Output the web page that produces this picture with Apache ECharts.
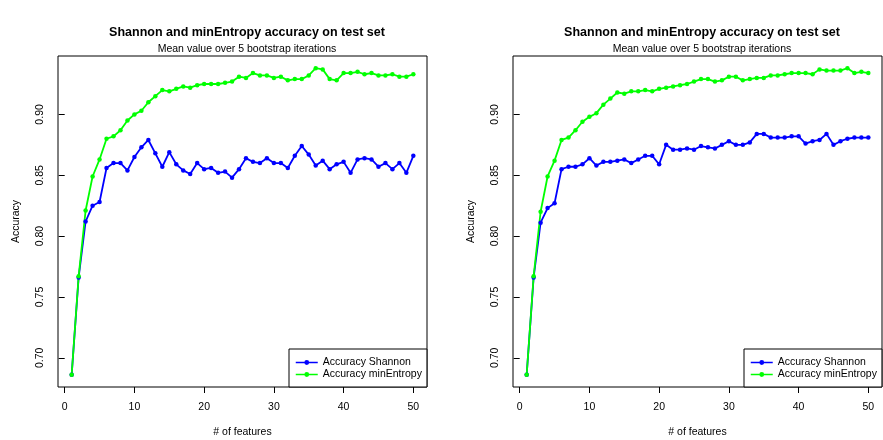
<!DOCTYPE html>
<html>
<head>
<meta charset="utf-8">
<title>Shannon and minEntropy accuracy</title>
<script src="https://cdn.jsdelivr.net/npm/echarts@6/dist/echarts.min.js"></script>
<style>
  html, body { margin: 0; padding: 0; background: #fff; }
  #main { width: 883px; height: 440px; }
</style>
</head>
<body>
<div id="main"></div>
<script>
// number of features (x axis)
var features = [];
for (var i = 1; i <= 50; i++) features.push(i);

var xTicks = [0, 10, 20, 30, 40, 50];
var yTicks = [0.70, 0.75, 0.80, 0.85, 0.90];

// left panel
var leftShannon = [
  0.686, 0.766, 0.812, 0.825, 0.828, 0.856, 0.860, 0.860, 0.854, 0.865,
  0.873, 0.879, 0.868, 0.857, 0.869, 0.859, 0.854, 0.851, 0.860, 0.855,
  0.856, 0.852, 0.853, 0.848, 0.855, 0.864, 0.861, 0.860, 0.864, 0.860,
  0.860, 0.856, 0.866, 0.874, 0.867, 0.858, 0.862, 0.855, 0.859, 0.861,
  0.852, 0.863, 0.864, 0.863, 0.857, 0.860, 0.855, 0.860, 0.852, 0.866
];
var leftMinEntropy = [
  0.686, 0.767, 0.821, 0.849, 0.863, 0.880, 0.882, 0.887, 0.895, 0.900,
  0.903, 0.910, 0.915, 0.920, 0.919, 0.921, 0.923, 0.922, 0.924, 0.925,
  0.925, 0.925, 0.926, 0.927, 0.931, 0.930, 0.934, 0.932, 0.932, 0.930,
  0.931, 0.928, 0.929, 0.929, 0.932, 0.938, 0.937, 0.929, 0.928, 0.934,
  0.934, 0.935, 0.933, 0.934, 0.932, 0.932, 0.933, 0.931, 0.931, 0.933
];

// right panel
var rightShannon = [
  0.686, 0.766, 0.811, 0.823, 0.827, 0.855, 0.857, 0.857, 0.859, 0.864,
  0.858, 0.861, 0.861, 0.862, 0.863, 0.860, 0.863, 0.866, 0.866, 0.859,
  0.875, 0.871, 0.871, 0.872, 0.871, 0.874, 0.873, 0.872, 0.875, 0.878,
  0.875, 0.875, 0.877, 0.884, 0.884, 0.881, 0.881, 0.881, 0.882, 0.882,
  0.876, 0.878, 0.879, 0.884, 0.875, 0.878, 0.880, 0.881, 0.881, 0.881
];
var rightMinEntropy = [
  0.686, 0.767, 0.820, 0.849, 0.862, 0.879, 0.881, 0.887, 0.894, 0.898,
  0.901, 0.908, 0.913, 0.918, 0.917, 0.919, 0.919, 0.920, 0.919, 0.921,
  0.922, 0.923, 0.924, 0.925, 0.927, 0.929, 0.929, 0.927, 0.928, 0.931,
  0.931, 0.928, 0.929, 0.930, 0.930, 0.932, 0.932, 0.933, 0.934, 0.934,
  0.934, 0.933, 0.937, 0.936, 0.936, 0.936, 0.938, 0.934, 0.935, 0.934
];

var titleText = 'Shannon and minEntropy accuracy on test set';
var subText = 'Mean value over 5 bootstrap iterations';
var nameShannon = 'Accuracy Shannon';
var nameMinEntropy = 'Accuracy minEntropy';

var font = "'Liberation Sans', Arial, sans-serif";

function pairs(ys) {
  return features.map(function (x, i) { return [x, ys[i]]; });
}

function xAxisFor(idx) {
  return {
    type: 'value', gridIndex: idx, min: -0.96, max: 51.96,
    name: '# of features', nameLocation: 'middle', nameGap: 40,
    nameTextStyle: { fontFamily: font, fontSize: 10.5, color: '#000' },
    axisLine: { show: false },
    axisTick: { show: true, length: 6, customValues: xTicks, lineStyle: { color: '#000' } },
    axisLabel: { customValues: xTicks, margin: 15, fontFamily: font, fontSize: 10.5, color: '#000' },
    splitLine: { show: false }
  };
}

function yAxisFor(idx) {
  return {
    type: 'value', gridIndex: idx, min: 0.676, max: 0.948,
    name: 'Accuracy', nameLocation: 'middle', nameGap: 36,
    nameTextStyle: { fontFamily: font, fontSize: 10.5, color: '#000' },
    axisLine: { show: false },
    axisTick: { show: true, length: 6, customValues: yTicks, lineStyle: { color: '#000' } },
    axisLabel: {
      customValues: yTicks, rotate: 90, margin: 12,
      fontFamily: font, fontSize: 10.5, color: '#000',
      formatter: function (v) { return v.toFixed(2); }
    },
    splitLine: { show: false }
  };
}

function lineSeries(name, color, idx, ys) {
  return {
    name: name, type: 'line', xAxisIndex: idx, yAxisIndex: idx,
    data: pairs(ys),
    symbol: 'circle', symbolSize: 4.5,
    itemStyle: { color: color },
    lineStyle: { color: color, width: 1.8 },
    animation: false
  };
}

function legendFor(left) {
  return {
    orient: 'vertical', left: left, top: 349,
    data: [nameShannon, nameMinEntropy],
    backgroundColor: '#fff', borderColor: '#000', borderWidth: 1,
    padding: [8, 5, 7, 6], itemGap: 1, itemWidth: 22, itemHeight: 6,
    lineStyle: { width: 1.5 },
    textStyle: { fontFamily: font, fontSize: 10.5, color: '#000' }
  };
}

var myChart = echarts.init(document.getElementById('main'));

myChart.setOption({
  backgroundColor: '#fff',
  title: [
    { text: titleText, left: 242, top: 21, textAlign: 'center',
      textStyle: { fontFamily: font, fontSize: 12.5, fontWeight: 'bold', color: '#000' } },
    { text: subText, left: 242, top: 39, textAlign: 'center',
      textStyle: { fontFamily: font, fontSize: 10.5, fontWeight: 'normal', color: '#000' } },
    { text: titleText, left: 697, top: 21, textAlign: 'center',
      textStyle: { fontFamily: font, fontSize: 12.5, fontWeight: 'bold', color: '#000' } },
    { text: subText, left: 697, top: 39, textAlign: 'center',
      textStyle: { fontFamily: font, fontSize: 10.5, fontWeight: 'normal', color: '#000' } }
  ],
  grid: [
    { left: 58, top: 56, width: 369, height: 331, outerBoundsMode: 'none', show: true, borderColor: '#000', borderWidth: 1, backgroundColor: 'transparent' },
    { left: 513, top: 56, width: 369, height: 331, outerBoundsMode: 'none', show: true, borderColor: '#000', borderWidth: 1, backgroundColor: 'transparent' }
  ],
  legend: [legendFor(289), legendFor(744)],
  xAxis: [xAxisFor(0), xAxisFor(1)],
  yAxis: [yAxisFor(0), yAxisFor(1)],
  series: [
    lineSeries(nameShannon, '#0000ff', 0, leftShannon),
    lineSeries(nameMinEntropy, '#00ff00', 0, leftMinEntropy),
    lineSeries(nameShannon, '#0000ff', 1, rightShannon),
    lineSeries(nameMinEntropy, '#00ff00', 1, rightMinEntropy)
  ]
});
</script>
</body>
</html>
